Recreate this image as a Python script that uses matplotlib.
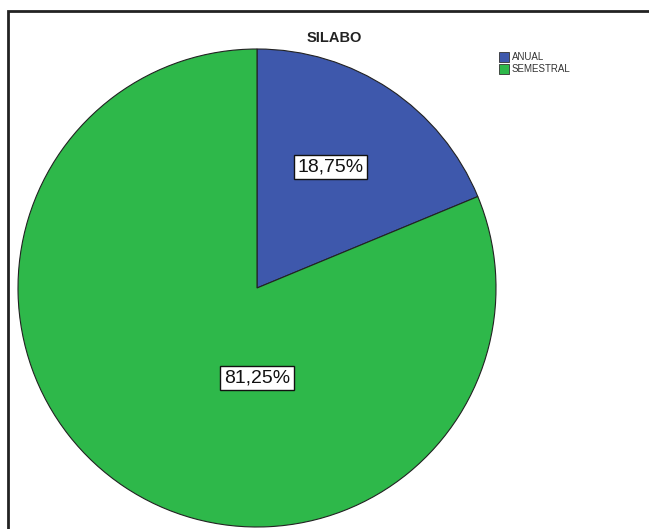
import matplotlib
matplotlib.use("Agg")
import matplotlib.pyplot as plt
from matplotlib.patches import Rectangle

plt.rcParams['font.family'] = ['Liberation Sans', 'DejaVu Sans']

categorias = ['ANUAL', 'SEMESTRAL']
porcentajes = [18.75, 81.25]
colores = ['#3e58ac', '#2eb84a']
etiquetas = ['18,75%', '81,25%']

W, H = 649, 529
fig = plt.figure(figsize=(W / 100, H / 100), dpi=100)

# pie axes: centre (257, 288) px, radius 239 px
cx, cy, r = 257, 288, 239
ax = fig.add_axes([(cx - r) / W, (H - cy - r) / H, 2 * r / W, 2 * r / H])
wedges, _ = ax.pie(porcentajes, colors=colores, startangle=90, counterclock=False,
                   radius=1, wedgeprops=dict(edgecolor='#222222', linewidth=0.8))
ax.set_xlim(-1, 1)
ax.set_ylim(-1, 1)
ax.axis('off')

# percentage boxes
pos_etiq = [(0.308, 0.507), (0.0, -0.377)]
for (x, y), t in zip(pos_etiq, etiquetas):
    ax.text(x, y, t, ha='center', va='center', fontsize=14, color='#111111',
            bbox=dict(boxstyle='square,pad=0.18', fc='white', ec='#111111', lw=1))

# outer frame
fig.add_artist(Rectangle((8 / W, -0.1), 1.1, (H - 11) / H + 0.1, transform=fig.transFigure,
                         fill=False, ec='#222222', lw=2))

fig.text(334 / W, 1 - 38 / H, 'SILABO', ha='center', va='center',
         fontsize=10.5, fontweight='bold', color='#222222')

# legend
for i, (c, col) in enumerate(zip(categorias, colores)):
    yy = 1 - (57 + 12 * i) / H
    fig.add_artist(Rectangle((499 / W, yy - 4.5 / H), 10 / W, 9 / H, transform=fig.transFigure,
                             fc=col, ec='#333333', lw=0.6))
    fig.text(512 / W, yy, c, ha='left', va='center', fontsize=7, color='#333333')

fig.savefig('out.png', dpi=100)
